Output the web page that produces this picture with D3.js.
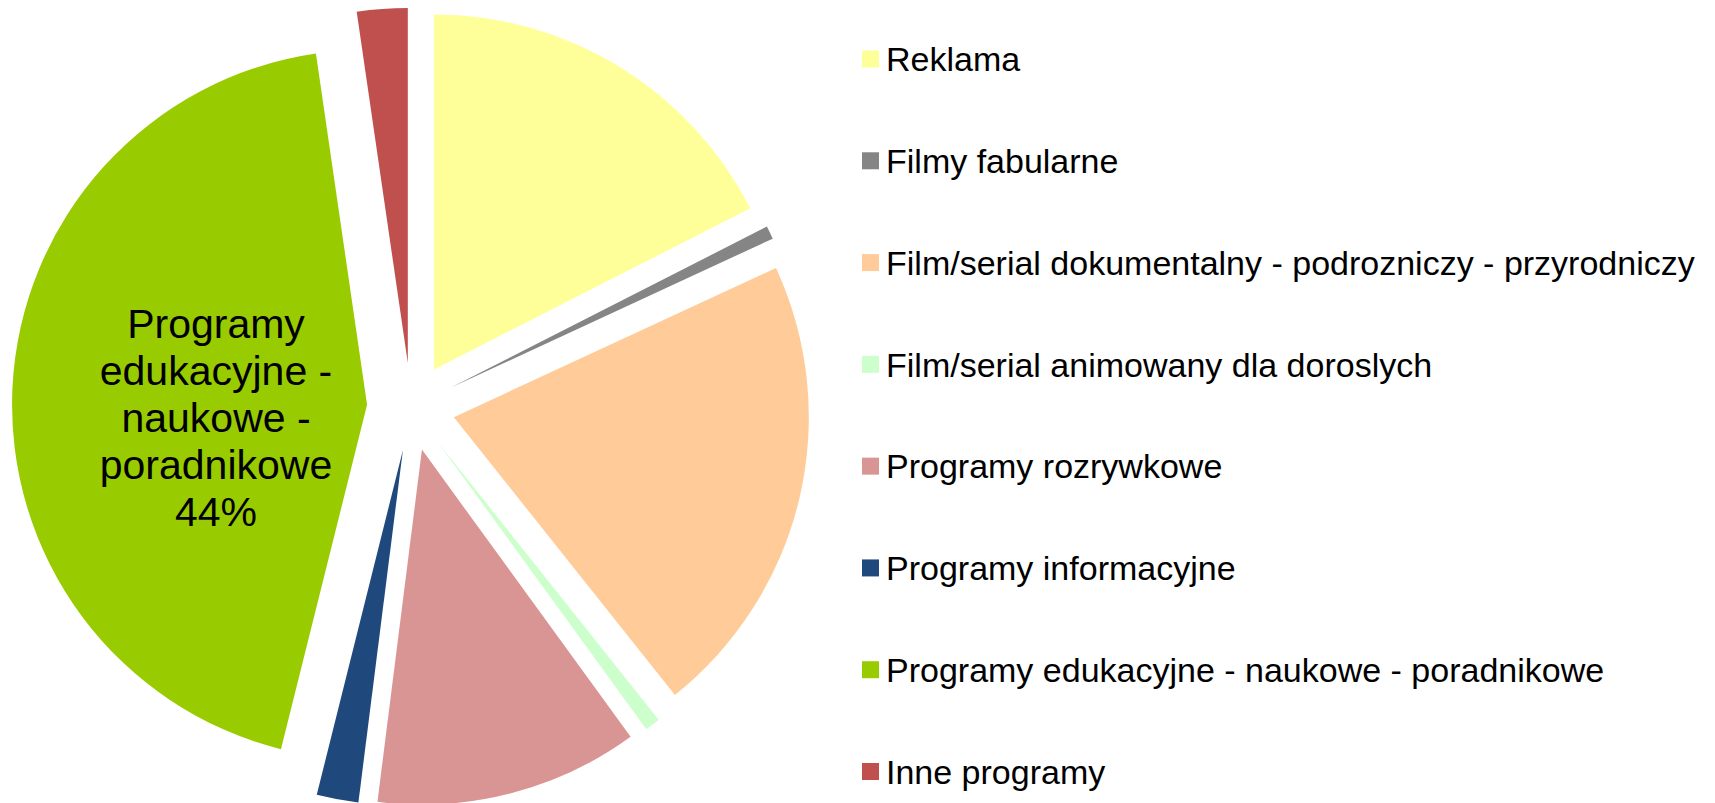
<!DOCTYPE html>
<html>
<head>
<meta charset="utf-8">
<script src="https://cdn.jsdelivr.net/npm/d3@7"></script>
<style>
  html, body { margin: 0; padding: 0; background: #fff; }
  svg { display: block; font-family: Arial, "Liberation Sans", sans-serif; }
</style>
</head>
<body>
<svg width="1715" height="803"></svg>
<script>
// data (share in %)
const categories = [
  'Reklama',
  'Filmy fabularne',
  'Film/serial dokumentalny - podrozniczy - przyrodniczy',
  'Film/serial animowany dla doroslych',
  'Programy rozrywkowe',
  'Programy informacyjne',
  'Programy edukacyjne - naukowe - poradnikowe',
  'Inne programy'
];
const values = [17.5, 0.6, 21.2, 0.7, 12.0, 1.9, 43.8, 2.3];
const colors = ['#FFFF99', '#858585', '#FFCC99', '#CCFFCC', '#D99594', '#1F497D', '#99CC00', '#C0504D'];
// only the biggest slice carries a label
const labelIndex = 6;
const labelLines = ['Programy', 'edukacyjne -', 'naukowe -', 'poradnikowe'];

let svg = d3.select('svg');

let cx = 411, cy = 407;
let radius = 355;
let explode = 44;

let total = d3.sum(values);

let pie = d3.pie()
  .sort(null)
  .startAngle(0)
  .endAngle(2 * Math.PI);

let arc = d3.arc()
  .innerRadius(0)
  .outerRadius(radius);

let arcs = pie(values);

let pieG = svg.append('g')
  .attr('transform', `translate(${cx},${cy})`);

pieG.selectAll('path')
  .data(arcs)
  .enter().append('path')
  .attr('d', arc)
  .attr('fill', (d, i) => colors[i])
  .attr('transform', (d) => {
    let mid = (d.startAngle + d.endAngle) / 2;
    return `translate(${explode * Math.sin(mid)},${-explode * Math.cos(mid)})`;
  });

// data label inside the big slice
let la = arcs[labelIndex];
let lmid = (la.startAngle + la.endAngle) / 2;
let lr = radius * 0.55;
let lx = lr * Math.sin(lmid);
let ly = -lr * Math.cos(lmid);
let pct = d3.format('.0f')(values[labelIndex] / total * 100) + '%';
let lines = labelLines.concat([pct]);
let lineH = 47;

let label = pieG.append('text')
  .attr('x', lx)
  .attr('y', ly + 24 - (lines.length - 1) / 2 * lineH)
  .attr('text-anchor', 'middle')
  .attr('font-size', 41)
  .attr('fill', '#000');

label.selectAll('tspan')
  .data(lines)
  .enter().append('tspan')
  .attr('x', lx)
  .attr('dy', (d, i) => i === 0 ? 0 : lineH)
  .attr('dominant-baseline', 'middle')
  .text((d) => d);

// legend
let legend = svg.append('g')
  .attr('transform', 'translate(862,59)');

let rowY = d3.scalePoint()
  .domain(categories)
  .range([0, 712.5]);

let rows = legend.selectAll('g')
  .data(categories)
  .enter().append('g')
  .attr('transform', (d) => `translate(0,${rowY(d)})`);

rows.append('rect')
  .attr('x', 0)
  .attr('y', -8.5)
  .attr('width', 17)
  .attr('height', 17)
  .attr('fill', (d, i) => colors[i]);

rows.append('text')
  .attr('x', 24)
  .attr('y', 0)
  .attr('dy', '0.36em')
  .attr('font-size', 34)
  .attr('fill', '#000')
  .text((d) => d);
</script>
</body>
</html>
